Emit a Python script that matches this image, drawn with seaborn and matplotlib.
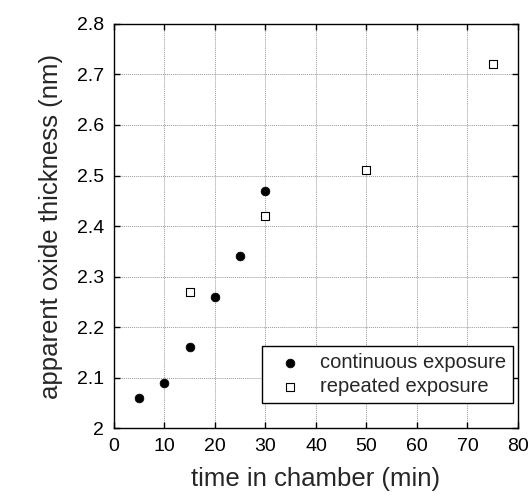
import matplotlib
matplotlib.use("Agg")
import matplotlib.pyplot as plt
import seaborn as sns

# data
cont_time = [5, 10, 15, 20, 25, 30]
cont_thick = [2.06, 2.09, 2.16, 2.26, 2.34, 2.47]
rep_time = [15, 30, 50, 75]
rep_thick = [2.27, 2.42, 2.51, 2.72]

sns.set_style("ticks")
plt.rcParams['font.family'] = ['Liberation Sans', 'DejaVu Sans']

fig = plt.figure(figsize=(5.29, 4.99), dpi=100)
ax = fig.add_axes([0.2155, 0.142, 0.7635, 0.81])

sns.scatterplot(x=cont_time, y=cont_thick, ax=ax, marker='o', s=40,
                color='black', edgecolor='black', linewidth=0.5,
                label='continuous exposure', zorder=3)
sns.scatterplot(x=rep_time, y=rep_thick, ax=ax, marker='s', s=36,
                facecolor='white', edgecolor='black', linewidth=0.8,
                label='repeated exposure', zorder=3)

ax.set_xlim(0, 80)
ax.set_ylim(2, 2.8)
ax.set_xticks(range(0, 81, 10))
ax.set_yticks([2, 2.1, 2.2, 2.3, 2.4, 2.5, 2.6, 2.7, 2.8])
ax.set_yticklabels(['2', '2.1', '2.2', '2.3', '2.4', '2.5', '2.6', '2.7', '2.8'])
ax.grid(True, linestyle=(0, (1, 1)), color='#999999', linewidth=0.7)
ax.tick_params(direction='in', length=4, width=1, top=True, right=True,
               labelsize=14, colors='black', pad=7)
for sp in ax.spines.values():
    sp.set_color('black')
    sp.set_linewidth(1)

ax.set_xlabel('time in chamber (min)', fontsize=18.5, labelpad=9)
ax.set_ylabel('apparent oxide thickness (nm)', fontsize=18.5, labelpad=10)

leg = ax.legend(loc='lower right', bbox_to_anchor=(0.988, 0.062), fontsize=14.5,
                frameon=True, fancybox=False, framealpha=1, edgecolor='black',
                handletextpad=0.5, borderpad=0.35, labelspacing=0.25,
                borderaxespad=0)
leg.get_frame().set_linewidth(1)

fig.savefig('out.png', dpi=100)
